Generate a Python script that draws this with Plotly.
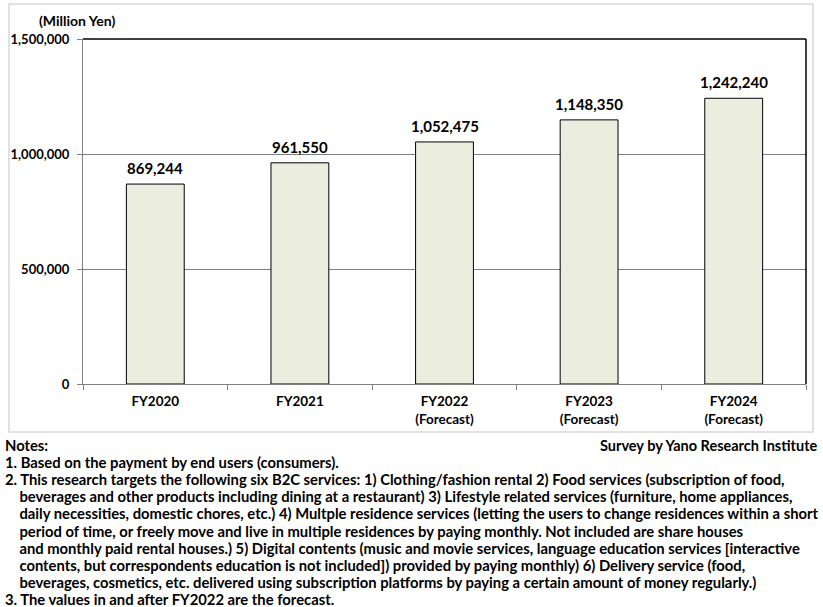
import plotly.graph_objects as go

categories = ["FY2020", "FY2021", "FY2022<br>(Forecast)", "FY2023<br>(Forecast)", "FY2024<br>(Forecast)"]
values = [869244, 961550, 1052475, 1148350, 1242240]
y_ticks = [0, 500000, 1000000, 1500000]
y_tick_labels = ["0", "500,000", "1,000,000", "1,500,000"]
unit_label = "(Million Yen)"
source_label = "Survey by Yano Research Institute"
notes = [
    "Notes:",
    "1. Based on the payment by end users (consumers).",
    "2. This research targets the following six B2C services: 1) Clothing/fashion rental 2) Food services (subscription of food,",
    "    beverages and other products including dining at a restaurant) 3) Lifestyle related services (furniture, home appliances,",
    "    daily necessities, domestic chores, etc.) 4) Multple residence services (letting the users to change residences within a short",
    "    period of time, or freely move and live in multiple residences by paying monthly. Not included are share houses",
    "    and monthly paid rental houses.) 5) Digital contents (music and movie services, language education services [interactive",
    "    contents, but correspondents education is not included]) provided by paying monthly) 6) Delivery service (food,",
    "    beverages, cosmetics, etc. delivered using subscription platforms by paying a certain amount of money regularly.)",
    "3. The values in and after FY2022 are the forecast.",
]

FONT = "Lato"
W, H = 823, 607
L, R, T, B = 83, 17, 39, 223

fig = go.Figure()
fig.add_trace(go.Bar(
    x=categories, y=values,
    marker=dict(color="#EBEEDF", line=dict(color="#000000", width=1)),
    width=0.4,
    hoverinfo="skip",
))

fig.update_layout(
    width=W, height=H,
    margin=dict(l=L, r=R, t=T, b=B, pad=0),
    paper_bgcolor="white", plot_bgcolor="white",
    showlegend=False,
    font=dict(family=FONT, size=13, color="#000000", weight="bold"),
    bargap=0.6,
)
fig.update_xaxes(
    showline=True, linecolor="#808080", linewidth=1,
    ticks="outside", ticklen=5, tickcolor="#808080",
    tickson="boundaries", ticklabelstandoff=5,
    tickfont=dict(family=FONT, size=13.5, color="#000000", weight="bold"),
    showgrid=False, fixedrange=True,
)
fig.update_yaxes(
    range=[0, 1500000],
    tickvals=y_ticks, ticktext=y_tick_labels,
    showline=True, linecolor="#808080", linewidth=1,
    ticks="outside", ticklen=5, tickcolor="#808080",
    ticklabelstandoff=5,
    showgrid=True, gridcolor="#808080", gridwidth=1,
    zeroline=False,
    tickfont=dict(family=FONT, size=13, color="#000000", weight="bold"),
    fixedrange=True,
)

pw = W - L - R
ph = H - T - B
def px(x):
    return (x - L) / pw
def py(y):
    return (H - B - y) / ph

shapes = []
shapes.append(dict(type="rect", xref="paper", yref="paper", x0=px(9), x1=px(813),
                   y0=py(432), y1=py(4),
                   line=dict(color="#D9D9D9", width=1.5), layer="below"))
shapes.append(dict(type="line", xref="paper", yref="paper", x0=0, x1=1, y0=1, y1=1,
                   line=dict(color="#000000", width=1.5)))
shapes.append(dict(type="line", xref="paper", yref="paper", x0=1, x1=1, y0=0, y1=1,
                   line=dict(color="#000000", width=1.5)))
fig.update_layout(shapes=shapes)

ann = []
for c, v in zip(categories, values):
    ann.append(dict(text=f"{v:,}", x=c, y=v, xref="x", yref="y",
                    xanchor="center", yanchor="bottom", yshift=5, showarrow=False,
                    font=dict(family=FONT, size=15, color="#000000", weight="bold")))
ann.append(dict(text=unit_label, x=px(37), y=py(20), xref="paper", yref="paper",
                xanchor="left", yanchor="middle", showarrow=False,
                font=dict(family=FONT, size=14, color="#000000", weight="bold")))
ann.append(dict(text=source_label, x=px(819), y=py(445), xref="paper", yref="paper",
                xanchor="right", yanchor="middle", showarrow=False,
                font=dict(family=FONT, size=14.5, color="#000000", weight="bold")))
for i, line in enumerate(notes):
    ann.append(dict(text=line.replace("    ", "&nbsp;&nbsp;&nbsp;&nbsp;"), x=px(3), y=py(445 + i * 17.1),
                    xref="paper", yref="paper", xanchor="left", yanchor="middle",
                    showarrow=False, font=dict(family=FONT, size=14.8, color="#000000", weight="bold")))
fig.update_layout(annotations=ann)

fig.write_html("out.html", config={"displayModeBar": False},
               post_script="document.body.style.margin='0';document.body.style.overflow='hidden';")
